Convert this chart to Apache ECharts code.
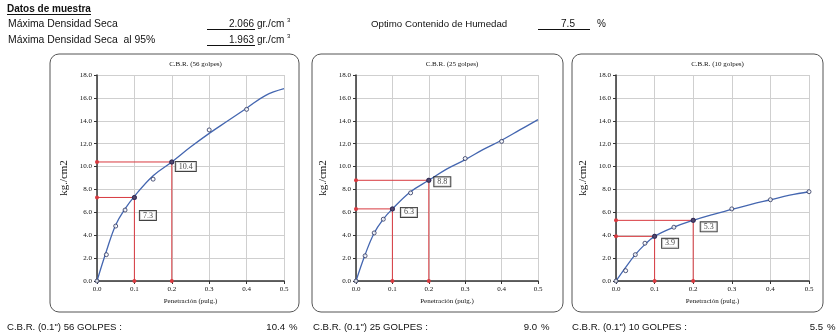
<!DOCTYPE html>
<html>
<head>
<meta charset="utf-8">
<script src="https://cdn.jsdelivr.net/npm/echarts@6/dist/echarts.min.js"></script>
<style>
  html, body { margin: 0; padding: 0; background: #fff; }
  #main { width: 836px; height: 336px; }
</style>
</head>
<body>
<div id="main"></div>
<script>
// ensayo CBR - lecturas de carga vs penetracion
const penetracion = [0, 0.025, 0.05, 0.075, 0.1, 0.15, 0.2, 0.3, 0.4];
const penetracion10 = [0, 0.025, 0.05, 0.075, 0.1, 0.15, 0.2, 0.3, 0.4, 0.5];
const carga56 = [0, 2.3, 4.8, 6.2, 7.3, 8.9, 10.4, 13.2, 15.0];
const carga25 = [0, 2.2, 4.2, 5.4, 6.3, 7.7, 8.8, 10.7, 12.2];
const carga10 = [0, 0.9, 2.3, 3.3, 3.9, 4.7, 5.3, 6.3, 7.1, 7.8];

// curva de ajuste
const curvaX = [0, 0.025, 0.05, 0.075, 0.1, 0.15, 0.2, 0.25, 0.3, 0.35, 0.4, 0.45, 0.5];
const curva56 = [0, 2.6, 4.9, 6.3, 7.4, 9.2, 10.4, 11.7, 12.9, 14.0, 15.1, 16.2, 16.8];
const curva25 = [0, 2.3, 4.2, 5.4, 6.3, 7.8, 8.8, 9.8, 10.6, 11.5, 12.3, 13.2, 14.1];
const curva10 = [0, 1.2, 2.3, 3.2, 3.9, 4.7, 5.3, 5.8, 6.25, 6.7, 7.1, 7.5, 7.8];

const lecturaX = [0.1, 0.2];
const cbr56 = [7.3, 10.4];
const cbr25 = [6.3, 8.8];
const cbr10 = [3.9, 5.3];

const titulos = ['C.B.R. (56 golpes)', 'C.B.R. (25 golpes)', 'C.B.R. (10 golpes)'];
const resumenTxt = ['C.B.R. (0.1") 56 GOLPES :', 'C.B.R. (0.1") 25 GOLPES :', 'C.B.R. (0.1") 10 GOLPES :'];
const resumenVal = ['10.4', '9.0', '5.5'];

const serif = '"Liberation Serif", "DejaVu Serif", serif';
const sans = '"Liberation Sans", Arial, sans-serif';

// layout of each panel
const paneles = [
  { left: 97, width: 187, box: [50, 54, 249, 258], txtX: 7, offs: [[3, 18], [1.5, 4.5]] },
  { left: 356, width: 182, box: [312, 54, 251, 258], txtX: 313, offs: [[6, 3.5], [3, 1.5]] },
  { left: 616, width: 193, box: [572, 54, 251, 258], txtX: 572, offs: [[5, 7], [5, 6.5]] }
];
const datos = [
  { xs: penetracion, ys: carga56, curva: curva56, cbr: cbr56 },
  { xs: penetracion, ys: carga25, curva: curva25, cbr: cbr25 },
  { xs: penetracion10, ys: carga10, curva: curva10, cbr: cbr10 }
];

let grid = [], xAxis = [], yAxis = [], series = [], title = [], graphic = [];

paneles.forEach(function (p, i) {
  const d = datos[i];
  grid.push({ left: p.left, width: p.width, top: 75, height: 206 });
  title.push({
    text: titulos[i],
    left: p.left + p.width / 2, top: 56, textAlign: 'center',
    textStyle: { fontFamily: serif, fontSize: 7, fontWeight: 'normal', color: '#111' }
  });
  xAxis.push({
    gridIndex: i, type: 'value', min: 0, max: 0.5, interval: 0.1,
    name: 'Penetración (pulg.)', nameLocation: 'middle', nameGap: 17,
    nameTextStyle: { fontFamily: serif, fontSize: 7, color: '#111' },
    axisLine: { lineStyle: { color: '#333', width: 1.5 } },
    axisTick: { show: true, length: 3, lineStyle: { color: '#333' } },
    axisLabel: { fontFamily: serif, fontSize: 7, color: '#111', margin: 5,
      formatter: function (v) { return v.toFixed(1); } },
    splitLine: { show: true, lineStyle: { color: '#cfcfcf', width: 1 } }
  });
  yAxis.push({
    gridIndex: i, type: 'value', min: 0, max: 18, interval: 2,
    name: 'kg./cm2', nameLocation: 'middle', nameGap: 27, nameRotate: 90,
    nameTextStyle: { fontFamily: serif, fontSize: 11, color: '#111' },
    axisLine: { show: true, lineStyle: { color: '#333', width: 1.5 } },
    axisTick: { show: true, length: 3, lineStyle: { color: '#333' } },
    axisLabel: { fontFamily: serif, fontSize: 7, color: '#111', margin: 5,
      formatter: function (v) { return v.toFixed(1); } },
    splitLine: { show: true, lineStyle: { color: '#cfcfcf', width: 1 } }
  });

  // lineas rojas de lectura
  lecturaX.forEach(function (x, k) {
    series.push({
      type: 'line', xAxisIndex: i, yAxisIndex: i, z: 2, silent: true,
      data: [[0, d.cbr[k]], [x, d.cbr[k]], [x, 0]],
      symbol: 'circle', symbolSize: 4,
      lineStyle: { color: '#d8393f', width: 1 },
      itemStyle: { color: '#d8393f' }
    });
  });

  series.push({
    type: 'line', xAxisIndex: i, yAxisIndex: i, z: 3,
    data: curvaX.map(function (x, k) { return [x, d.curva[k]]; }),
    smooth: 0.4, showSymbol: false,
    lineStyle: { color: '#4466b0', width: 1.3 }
  });
  series.push({
    type: 'scatter', xAxisIndex: i, yAxisIndex: i, z: 4,
    data: d.xs.map(function (x, k) { return [x, d.ys[k]]; }),
    symbol: 'circle', symbolSize: 4,
    itemStyle: { color: '#fff', borderColor: '#27305a', borderWidth: 1 }
  });
  series.push({
    type: 'scatter', xAxisIndex: i, yAxisIndex: i, z: 5,
    data: lecturaX.map(function (x, k) {
      return {
        value: [x, d.cbr[k]],
        label: { offset: p.offs[k] }
      };
    }),
    symbol: 'circle', symbolSize: 5,
    itemStyle: { color: '#2a2350' },
    label: {
      show: true, position: 'right', distance: 0,
      formatter: function (o) { return o.value[1].toFixed(1); },
      fontFamily: serif, fontSize: 8, color: '#111',
      backgroundColor: '#fff', borderColor: '#111', borderWidth: 1,
      padding: [1, 3, 0, 3]
    }
  });

  graphic.push({
    type: 'rect', z: -1,
    shape: { x: p.box[0], y: p.box[1], width: p.box[2], height: p.box[3], r: 9 },
    style: { fill: 'none', stroke: '#555', lineWidth: 1 }
  });

  // resumen inferior
  graphic.push({
    type: 'text', x: p.txtX, y: 327,
    style: { text: resumenTxt[i], font: '9.6px ' + sans, fill: '#111', verticalAlign: 'middle' }
  });
});

// valores resumen a la derecha de cada panel
const valX = [285, 537, 823];
valX.forEach(function (x, i) {
  graphic.push({
    type: 'text', x: x, y: 327,
    style: { text: resumenVal[i], font: '9.6px ' + sans, fill: '#111', align: 'right', verticalAlign: 'middle' }
  });
  graphic.push({
    type: 'text', x: x + 4, y: 327,
    style: { text: '%', font: '9.6px ' + sans, fill: '#111', verticalAlign: 'middle' }
  });
});

// cabecera
function txt(x, y, s, extra) {
  return {
    type: 'text', x: x, y: y,
    style: Object.assign({ text: s, font: '10px ' + sans, fill: '#111', verticalAlign: 'middle' }, extra || {})
  };
}
function linea(x1, x2, y) {
  return { type: 'line', shape: { x1: x1, y1: y, x2: x2, y2: y }, style: { stroke: '#111', lineWidth: 1 } };
}
graphic.push(txt(7, 9, 'Datos de muestra', { font: 'bold 10px ' + sans }));
graphic.push(linea(7, 91, 14.5));
graphic.push(txt(8, 24.5, 'Máxima Densidad Seca', { font: '10.4px ' + sans }));
graphic.push(txt(8, 40.5, 'Máxima Densidad Seca  al 95%', { font: '10.4px ' + sans }));
graphic.push(txt(254, 24.5, '2.066', { align: 'right' }));
graphic.push(txt(257, 24.5, 'gr./cm'));
graphic.push(txt(287, 20.5, '3', { font: '6px ' + sans }));
graphic.push(linea(207, 255, 29.5));
graphic.push(txt(254, 40.5, '1.963', { align: 'right' }));
graphic.push(txt(257, 40.5, 'gr./cm'));
graphic.push(txt(287, 36.5, '3', { font: '6px ' + sans }));
graphic.push(linea(207, 255, 45.5));
graphic.push(txt(371, 24.5, 'Optimo Contenido de Humedad', { font: '9.7px ' + sans }));
graphic.push(txt(568, 24.5, '7.5', { align: 'center' }));
graphic.push(linea(538, 590, 29.5));
graphic.push(txt(597, 24.5, '%'));

let myChart = echarts.init(document.getElementById('main'));
myChart.setOption({
  animation: false,
  title: title,
  grid: grid,
  xAxis: xAxis,
  yAxis: yAxis,
  series: series,
  graphic: graphic
});
</script>
</body>
</html>
